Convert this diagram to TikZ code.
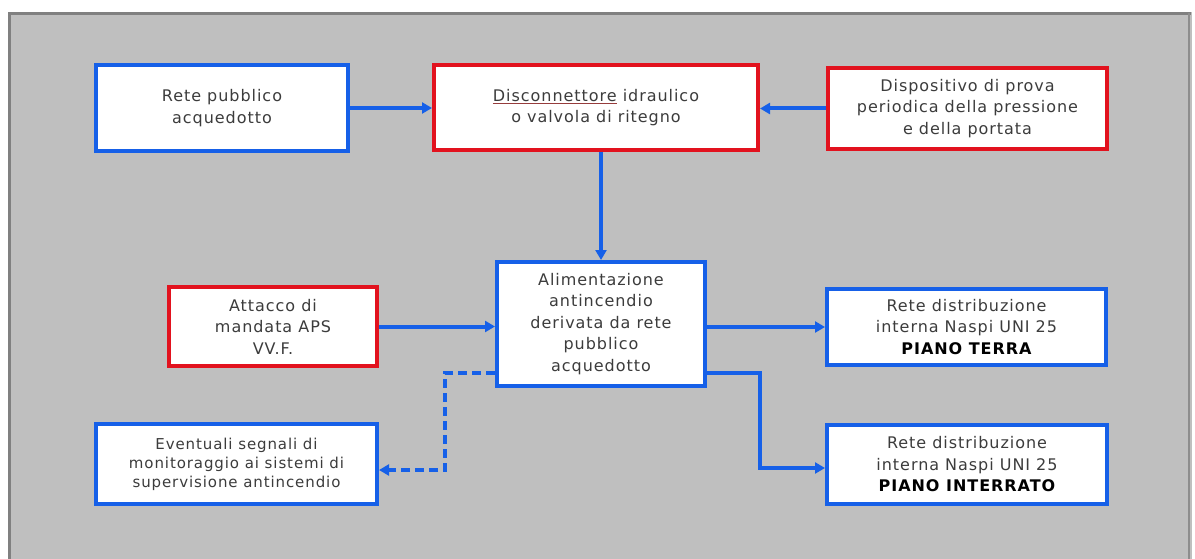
\documentclass[tikz,border=0pt]{standalone}
\usepackage{fontspec}
\setmainfont{DejaVu Sans}[LetterSpace=6]
\usetikzlibrary{arrows.meta,calc}
\definecolor{panel}{RGB}{191,191,191}
\definecolor{panelline}{RGB}{128,128,128}
\definecolor{bblue}{RGB}{22,96,232}
\definecolor{rred}{RGB}{226,18,30}
\definecolor{txt}{RGB}{60,60,60}
\definecolor{ulred}{RGB}{150,60,60}
\tikzset{
  box/.style={draw, fill=white, line width=4pt, align=center, text=txt,
    font=\fontsize{16}{21.5}\selectfont, inner sep=0pt},
  bluebox/.style={box, draw=bblue},
  redbox/.style={box, draw=rred},
  conn/.style={draw=bblue, line width=4pt, -{Triangle[length=10pt,width=11pt]}},
  dconn/.style={conn, dash pattern=on 9pt off 5pt}
}
\begin{document}
\begin{tikzpicture}[x=1pt,y=-1pt]
\useasboundingbox (0,0) rectangle (1195,559);
% panel
\fill[panel] (8,12) rectangle (1192,559);
\draw[panelline, line width=3pt] (9.5,560) -- (9.5,13.5) -- (1191,13.5);
\draw[panelline!80!panel, line width=1.5pt] (1189,13.5) -- (1189,559);
% nodes
\node[bluebox, minimum width=252pt, minimum height=86pt] (rete) at (222,108)
  {Rete pubblico\\acquedotto};
\node[redbox, minimum width=324pt, minimum height=85pt] (disc) at (596,107.5)
  {{\color{ulred}$\underline{\hbox{\color{txt}Disconnettore}}$} idraulico\\o valvola di ritegno};
\node[redbox, minimum width=279pt, minimum height=81pt] (disp) at (967.5,108.5)
  {Dispositivo di prova\\periodica della pressione\\e della portata};
\node[bluebox, minimum width=208pt, minimum height=124pt] (alim) at (601,324)
  {Alimentazione\\antincendio\\derivata da rete\\pubblico\\acquedotto};
\node[redbox, minimum width=208pt, minimum height=79pt] (att) at (273,326.5)
  {Attacco di\\mandata APS\\VV.F.};
\node[bluebox, minimum width=279pt, minimum height=76pt] (terra) at (966.5,327)
  {Rete distribuzione\\interna Naspi UNI 25\\{\color{black}\bfseries PIANO TERRA}};
\node[bluebox, minimum width=280pt, minimum height=79pt] (interr) at (967,464.5)
  {Rete distribuzione\\interna Naspi UNI 25\\{\color{black}\bfseries PIANO INTERRATO}};
\node[bluebox, minimum width=281pt, minimum height=80pt,
  font=\fontsize{15}{19}\selectfont] (event) at (236.5,464)
  {Eventuali segnali di\\monitoraggio ai sistemi di\\supervisione antincendio};
% helper coordinates
\coordinate (yA) at (0,373);
\coordinate (bendR) at (760,373);
\coordinate (yI) at (0,468);
\coordinate (bendL) at (445,373);
\coordinate (yE) at (0,470);
% connectors
\draw[conn] (rete.east) -- (rete.east -| disc.west);
\draw[conn] (disp.west) -- (disp.west -| disc.east);
\draw[conn] (alim.north |- disc.south) -- (alim.north);
\draw[conn] (att.east) -- (att.east -| alim.west);
\draw[conn] (terra.west -| alim.east) -- (terra.west);
\draw[conn] (alim.east |- yA) -- (bendR) |- (interr.west |- yI);
\draw[dconn] (alim.west |- yA) -- (bendL) |- (event.east |- yE);
\end{tikzpicture}
\end{document}
